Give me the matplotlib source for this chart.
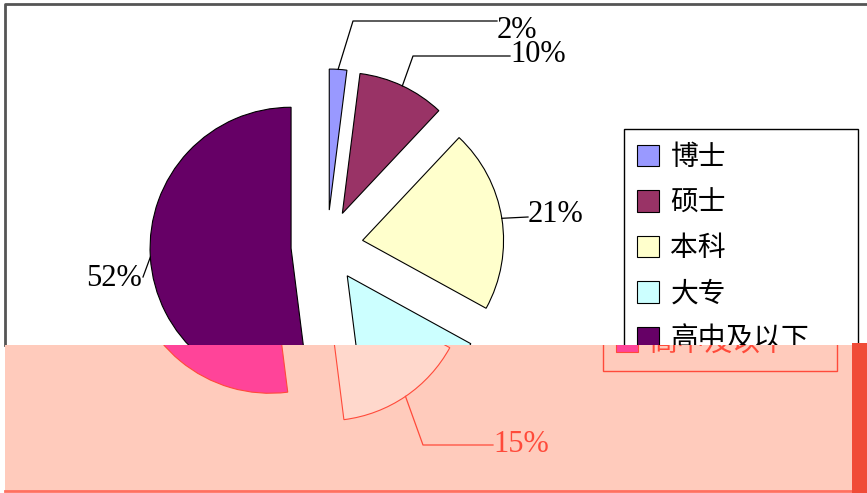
import numpy as np
import matplotlib
matplotlib.use("Agg")
import matplotlib.pyplot as plt
from matplotlib.patches import Rectangle

plt.rcParams['font.family'] = ['Noto Sans CJK SC', 'DejaVu Sans']

# Data
categories = ['博士', '硕士', '本科', '大专', '高中及以下']
shares = [2, 10, 21, 15, 52]
pct_labels = ['2%', '10%', '21%', '15%', '52%']
colors = ['#9999FF', '#993366', '#FFFFCC', '#CCFFFF', '#660066']
# the washed-out band across the bottom of the picture shows the same chart in other tints
band_colors = ['#FFB8C8', '#FF6E8C', '#FFD8C8', '#FFD8CC', '#FF4499']

# Layout (pixel units, y measured from the top)
W, H = 867, 493
center = (327, H - 246)
radius = 141
explode = 36
# leader elbow, leader end, label position, alignment
label_layout = [
    ((353, 21), (497, 21), (497, 30), 'left'),
    ((413, 56), (510, 56), (510, 54), 'left'),
    (None, (528, 217), (528, 214), 'left'),
    ((444, 441), (514, 441), (514, 441), 'left'),
    (None, (143, 277), (142, 278), 'right'),
]


def draw_chart(ax, fills, ink, paper):
    wedges, _ = ax.pie(shares, colors=fills, startangle=90, counterclock=False,
                       center=center, radius=radius, explode=[explode] * len(shares),
                       wedgeprops=dict(edgecolor=ink, linewidth=0.8))
    for w in wedges:
        w.set_clip_on(True)
    for w, txt, (elbow, end, pos, ha) in zip(wedges, pct_labels, label_layout):
        mid = np.deg2rad((w.theta1 + w.theta2) / 2)
        pts = [(w.center[0] + w.r * np.cos(mid), w.center[1] + w.r * np.sin(mid))]
        if elbow:
            pts.append((elbow[0], H - elbow[1]))
        pts.append((end[0], H - end[1]))
        xs, ys = zip(*pts)
        ax.plot(xs, ys, color=ink, lw=0.9)
        ax.text(pos[0], H - pos[1], txt, ha=ha, va='center', fontsize=22,
                family='Liberation Serif', color=ink, clip_on=True)
    leg = ax.legend(wedges, categories, loc='upper left', mode='expand',
                    bbox_to_anchor=(624, H - 129 - 240, 234, 240),
                    bbox_transform=ax.transData, borderaxespad=0,
                    fontsize=20, frameon=True, fancybox=False, framealpha=1,
                    edgecolor=ink, facecolor=paper, labelcolor=ink,
                    handlelength=0.8, handleheight=0.8, handletextpad=0.4,
                    borderpad=0.47, labelspacing=0.56)
    leg.get_frame().set_linewidth(1.0)
    return leg


fig = plt.figure(figsize=(W / 100, H / 100), dpi=100)

ax = fig.add_axes([0, 0, 1, 1])
leg = draw_chart(ax, colors, 'black', 'white')
ax.plot([5, 5, W], [H - 345, H - 4, H - 4], color='#555555', lw=2)
ax.set_xlim(0, W)
ax.set_ylim(0, H)
ax.set_aspect('auto')
ax.axis('off')

# bottom band: same chart, tinted and slightly displaced
ax2 = fig.add_axes([5 / W, 2 / H, 847 / W, 146 / H])
leg2 = draw_chart(ax2, band_colors, '#FF4A3A', '#FFCBBC')
for a in leg2.findobj():
    if a is not leg2:
        a.set_clip_on(True)
        a.set_clip_box(ax2.bbox)
ax2.set_xlim(26, 873)
ax2.set_ylim(6, 152)
ax2.set_aspect('auto')
ax2.set_frame_on(True)
ax2.set_facecolor('#FFCBBC')
ax2.set_xticks([])
ax2.set_yticks([])
for side in ['top', 'left', 'right']:
    ax2.spines[side].set_visible(False)
ax2.spines['bottom'].set_color('#FF7060')
ax2.spines['bottom'].set_linewidth(2)

fig.add_artist(Rectangle((852 / W, 0), 15 / W, 150 / H, transform=fig.transFigure,
                         facecolor='#F04B37', edgecolor='none'))

# hide text copies that end up entirely on the wrong side of the band
fig.canvas.draw()
renderer = fig.canvas.get_renderer()
band = ax2.bbox
for t in ax2.texts + leg2.get_texts():
    if not t.get_window_extent(renderer).overlaps(band):
        t.set_visible(False)
for t in ax.texts + leg.get_texts():
    bb = t.get_window_extent(renderer)
    if bb.y1 <= band.y1 and bb.x0 >= band.x0 and bb.x1 <= band.x1:
        t.set_visible(False)

fig.savefig('out.png', dpi=100)
